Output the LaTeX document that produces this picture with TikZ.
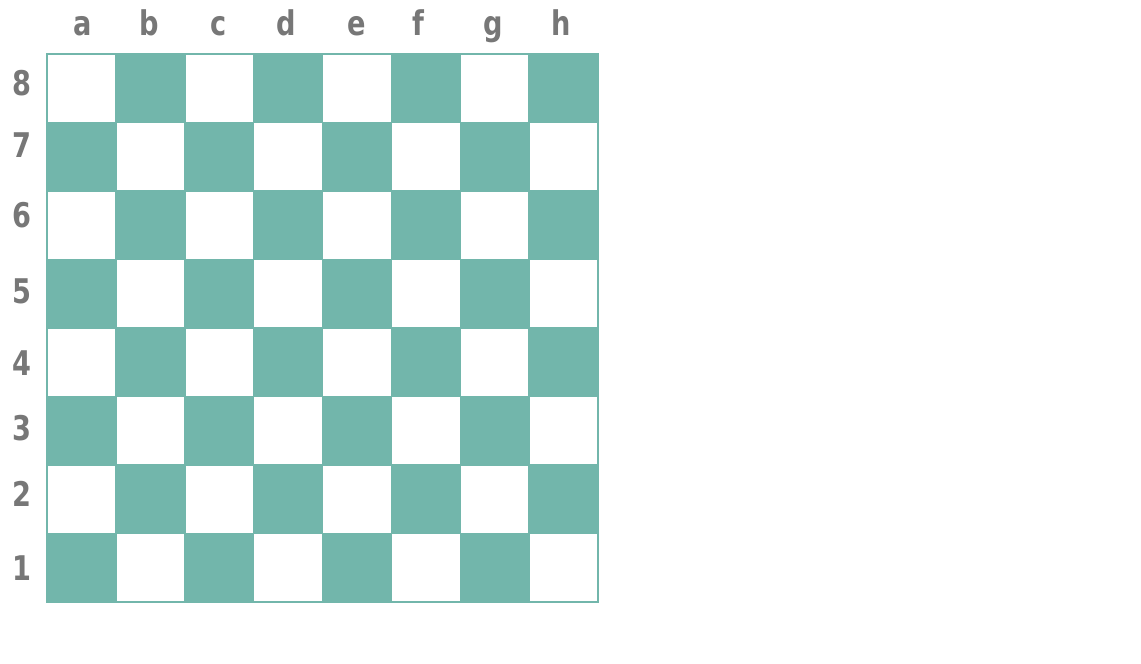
\documentclass[tikz,border=0pt]{standalone}
\usepackage{fontspec}
\setmainfont{DejaVu Sans}
\definecolor{teal}{HTML}{72B6AB}
\definecolor{lbl}{HTML}{777777}
\begin{document}
\begin{tikzpicture}[x=1pt,y=-1pt,
  lab/.style={text=lbl,font=\fontsize{34}{34}\selectfont\bfseries,inner sep=0pt,anchor=base,xscale=0.8},
  dark/.style={fill=teal,draw=teal,line width=1.5pt},
  light/.style={fill=white,draw=teal,line width=1.5pt}]
\useasboundingbox[fill=white] (0,0) rectangle (1141,664);
\def\sqx{68.875}
\def\sqy{68.5}
\foreach \r in {0,...,7}{
  \foreach \c in {0,...,7}{
    \pgfmathtruncatemacro\pty{mod(\r+\c,2)}
    \ifnum\pty=1
      \path[dark] ({47+\c*\sqx},{54+\r*\sqy}) rectangle ({47+(\c+1)*\sqx},{54+(\r+1)*\sqy});
    \else
      \path[light] ({47+\c*\sqx},{54+\r*\sqy}) rectangle ({47+(\c+1)*\sqx},{54+(\r+1)*\sqy});
    \fi
  }
}
\draw[teal,line width=1.5pt] (47,54) rectangle (598,602);
\foreach \l/\x in {a/83,b/149,c/219,d/286,e/357,f/418,g/493,h/561}
  \node[lab] (col\l) at (\x,35) {\l};
\foreach \n/\y in {8/95,7/157,6/227,5/303,4/375,3/440,2/506,1/580}
  \node[lab] (row\n) at (22,\y) {\n};
\end{tikzpicture}
\end{document}
